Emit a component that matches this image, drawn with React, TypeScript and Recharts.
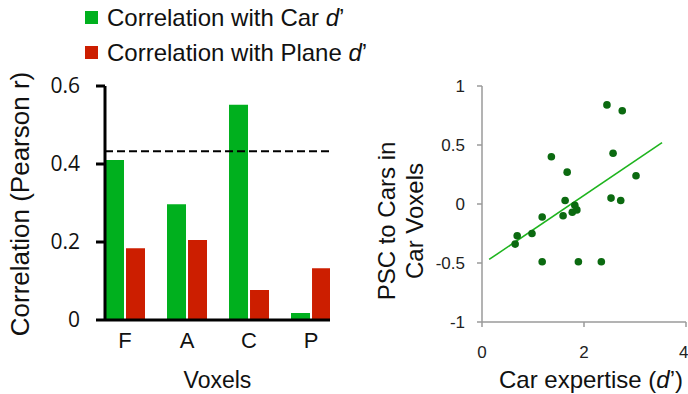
import React from "react";
import {
  BarChart,
  Bar,
  XAxis,
  YAxis,
  Legend,
  Label,
  ReferenceLine,
  ScatterChart,
  Scatter,
} from "recharts";

// bar panel
const voxels = ["F", "A", "C", "P"];
const carCorr = [0.41, 0.297, 0.552, 0.018];
const planeCorr = [0.184, 0.205, 0.077, 0.133];
const threshold = 0.433;
const corrTicks = [0, 0.2, 0.4, 0.6];

// scatter panel
const expertise = [2.45, 2.75, 1.36, 2.57, 1.67, 3.02, 1.63, 2.53, 2.72, 1.82, 1.77, 1.86, 1.59, 1.18, 0.98, 0.69, 0.65, 1.18, 1.89, 2.34];
const psc = [0.84, 0.79, 0.4, 0.43, 0.27, 0.24, 0.03, 0.05, 0.03, -0.01, -0.07, -0.05, -0.1, -0.11, -0.25, -0.27, -0.34, -0.49, -0.49, -0.49];
const fitX = [0.14, 3.53];
const fitY = [-0.47, 0.52];
const pscTicks = [-1, -0.5, 0, 0.5, 1];
const expTicks = [0, 2, 4];

const ARIAL = "'Liberation Sans', Arial, sans-serif";

const barData = voxels.map((v, i) => ({ idx: i, name: v, car: carCorr[i], plane: planeCorr[i] }));
const pts = expertise.map((x, i) => ({ x, y: psc[i] }));

const LegendBox = ({ payload }: any) => (
  <div style={{ fontFamily: ARIAL, fontSize: 24, lineHeight: "35px", color: "#111" }}>
    {(payload || []).map((p: any) => (
      <div key={p.value} style={{ display: "flex", alignItems: "center", whiteSpace: "nowrap" }}>
        <span style={{ width: 13, height: 13, background: p.color, marginRight: 9, display: "inline-block" }} />
        <span>
          {p.value} <i>d</i>’
        </span>
      </div>
    ))}
  </div>
);

const leftTitle = ({ viewBox }: any) => (
  <text
    transform={`translate(${viewBox.x - 16}, ${viewBox.y + viewBox.height / 2 + 1}) rotate(-90)`}
    textAnchor="middle"
    fontFamily={ARIAL}
    fontSize={26}
    fill="#111">
    Correlation (Pearson r)
  </text>
);

const voxelTitle = ({ viewBox }: any) => (
  <text x={viewBox.x + viewBox.width / 2} y={388} textAnchor="middle" fontFamily={ARIAL} fontSize={23} fill="#111">
    Voxels
  </text>
);

const pscTitle = ({ viewBox }: any) => {
  const cy = viewBox.y + viewBox.height / 2 + 17;
  return (
    <g fontFamily={ARIAL} fontSize={24} fill="#111">
      <text transform={`translate(${viewBox.x - 37}, ${cy}) rotate(-90)`} textAnchor="middle">
        PSC to Cars in
      </text>
      <text transform={`translate(${viewBox.x - 9}, ${cy}) rotate(-90)`} textAnchor="middle">
        Car Voxels
      </text>
    </g>
  );
};

const expTitle = ({ viewBox }: any) => (
  <text x={viewBox.x + viewBox.width / 2 + 7} y={388} textAnchor="middle" fontFamily={ARIAL} fontSize={24} fill="#111">
    Car expertise (<tspan fontStyle="italic">d</tspan>’)
  </text>
);

const Dot = (props: any) => <circle cx={props.cx} cy={props.cy} r={3.8} fill="#0b6a10" />;

export default function App() {
  return (
    <div style={{ position: "absolute", left: 0, top: 0, width: 688, height: 394, background: "#fff" }}>
      <div style={{ position: "absolute", left: 0, top: 0 }}>
        <BarChart
          width={370}
          height={394}
          data={barData}
          barGap={2}
          margin={{ top: 86, right: 40, bottom: 34, left: 45 }}>
          <XAxis
            type="number"
            dataKey="idx"
            domain={[-0.3226, 3.306]}
            allowDataOverflow
            ticks={[0, 1, 2, 3]}
            tickFormatter={(i) => voxels[i]}
            height={40}
            axisLine={{ stroke: "#000", strokeWidth: 3 }}
            tickLine={false}
            tickSize={0}
            tickMargin={12}
            tick={{ fill: "#111", fontSize: 22, fontFamily: ARIAL }}>
            <Label content={voxelTitle} />
          </XAxis>
          <YAxis
            type="number"
            domain={[0, 0.6]}
            ticks={corrTicks}
            width={60}
            axisLine={{ stroke: "#000", strokeWidth: 3 }}
            tickLine={{ stroke: "#000", strokeWidth: 3 }}
            tickSize={9}
            tickMargin={16}
            tick={{ fill: "#111", fontSize: 21, fontFamily: "'Open Sans', sans-serif" }}
            tickFormatter={(v) => (v === 0 ? "0" : v.toFixed(1))}>
            <Label content={leftTitle} />
          </YAxis>
          <Legend
            layout="vertical"
            align="center"
            verticalAlign="middle"
            content={<LegendBox />}
            wrapperStyle={{ left: 85, top: 0, width: 320 }}
          />
          <Bar dataKey="car" name="Correlation with Car" fill="#00b01e" barSize={19} isAnimationActive={false} />
          <Bar dataKey="plane" name="Correlation with Plane" fill="#cc1e00" barSize={19} isAnimationActive={false} />
          <ReferenceLine y={threshold} stroke="#000" strokeWidth={2} strokeDasharray="8 4" />
        </BarChart>
      </div>
      <div style={{ position: "absolute", left: 340, top: 0 }}>
        <ScatterChart width={348} height={394} margin={{ top: 86, right: 2, bottom: 32, left: 92 }}>
          <XAxis
            type="number"
            dataKey="x"
            domain={[0, 4]}
            ticks={expTicks}
            height={40}
            axisLine={{ stroke: "#9a9a9a", strokeWidth: 1.5 }}
            tickLine={{ stroke: "#9a9a9a", strokeWidth: 1.5 }}
            tickSize={5}
            tickMargin={19}
            tick={{ fill: "#222", fontSize: 17, fontFamily: ARIAL }}>
            <Label content={expTitle} />
          </XAxis>
          <YAxis
            type="number"
            dataKey="y"
            domain={[-1, 1]}
            ticks={pscTicks}
            width={50}
            axisLine={{ stroke: "#9a9a9a", strokeWidth: 1.5 }}
            tickLine={{ stroke: "#9a9a9a", strokeWidth: 1.5 }}
            tickSize={5}
            tickMargin={12}
            tick={{ fill: "#222", fontSize: 17, fontFamily: ARIAL }}
            tickFormatter={(v) => String(v)}>
            <Label content={pscTitle} />
          </YAxis>
          <Scatter data={pts} fill="#0b6a10" shape={<Dot />} isAnimationActive={false} />
          <ReferenceLine
            segment={[
              { x: fitX[0], y: fitY[0] },
              { x: fitX[1], y: fitY[1] },
            ]}
            stroke="#1eb41e"
            strokeWidth={1.6}
            ifOverflow="visible"
          />
        </ScatterChart>
      </div>
    </div>
  );
}
